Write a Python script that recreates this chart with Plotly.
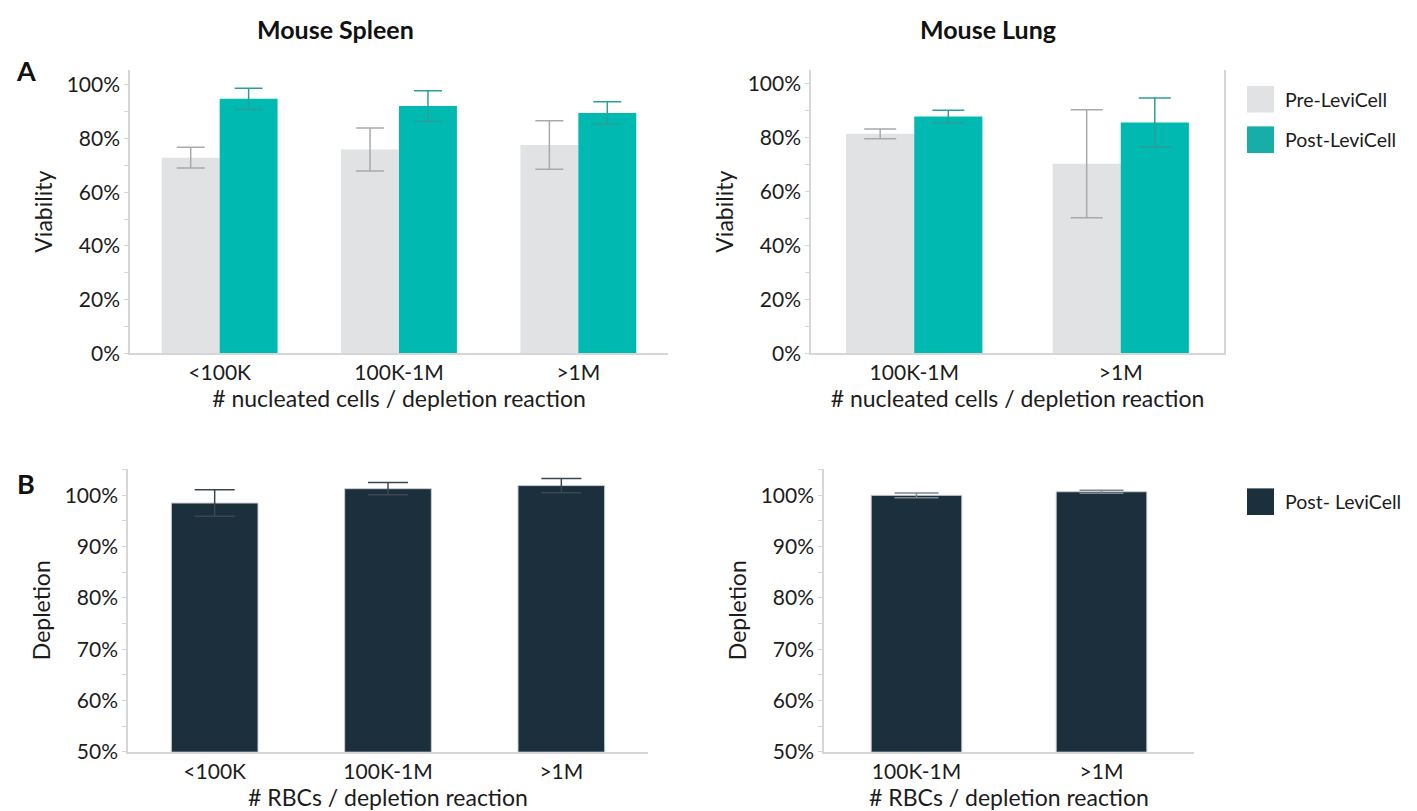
import plotly.graph_objects as go

W, H = 1417, 811

# ---------------- data ----------------
spleen_cats = ["<100K", "100K-1M", ">1M"]
lung_cats = ["100K-1M", ">1M"]

spleen_pre = [72.9, 75.9, 77.6]
spleen_pre_err = [3.9, 8.0, 9.0]
spleen_post = [94.8, 92.1, 89.5]
spleen_post_err = [4.0, 5.7, 4.2]

lung_pre = [81.4, 70.3]
lung_pre_err = [1.8, 20.0]
lung_post = [87.8, 85.6]
lung_post_err = [2.3, 9.1]

spleen_depl = [98.5, 101.3, 101.9]
spleen_depl_err = [2.6, 1.2, 1.4]
lung_depl = [100.0, 100.7]
lung_depl_err = [0.45, 0.3]

viab_ticks = [0, 20, 40, 60, 80, 100]
depl_ticks = [50, 60, 70, 80, 90, 100]

# ---------------- style ----------------
FONT = "Lato"
TXT = "#1c1c1c"
GRAY = "#e1e2e4"
TEAL = "#00b9b1"
TEAL_LEG = "#17aea7"
DARK = "#1b2f3c"
AXIS = "#d6d6d6"
TICK_SIZE = 21
TITLE_SIZE = 23


def px_x(p):
    return p / W


def px_y(p):
    return 1 - p / H


def esc(s):
    return s.replace("<", "&lt;").replace(">", "&gt;")


fig = go.Figure()

# ---- A left: Mouse Spleen viability ----
wA1 = 0.323
fig.add_trace(go.Bar(x=spleen_cats, y=spleen_pre, name="Pre-LeviCell",
                     marker=dict(color=GRAY, line=dict(width=0)),
                     width=wA1, offset=-wA1,
                     error_y=dict(type="data", array=spleen_pre_err, color="#a9a9a9",
                                  thickness=1.5, width=14),
                     xaxis="x", yaxis="y", showlegend=False))
fig.add_trace(go.Bar(x=spleen_cats, y=spleen_post, name="Post-LeviCell",
                     marker=dict(color=TEAL, line=dict(width=0)),
                     width=wA1, offset=0,
                     error_y=dict(type="data", array=spleen_post_err, color="#2a9f97",
                                  thickness=1.5, width=14),
                     xaxis="x", yaxis="y", showlegend=False))

# ---- A right: Mouse Lung viability ----
wA2 = 0.33
fig.add_trace(go.Bar(x=lung_cats, y=lung_pre, name="Pre-LeviCell",
                     marker=dict(color=GRAY, line=dict(width=0)),
                     width=wA2, offset=-wA2,
                     error_y=dict(type="data", array=lung_pre_err, color="#a9a9a9",
                                  thickness=1.5, width=16),
                     xaxis="x2", yaxis="y2", showlegend=False))
fig.add_trace(go.Bar(x=lung_cats, y=lung_post, name="Post-LeviCell",
                     marker=dict(color=TEAL, line=dict(width=0)),
                     width=wA2, offset=0,
                     error_y=dict(type="data", array=lung_post_err, color="#2a9f97",
                                  thickness=1.5, width=16),
                     xaxis="x2", yaxis="y2", showlegend=False))

# ---- B left: Mouse Spleen depletion ----
fig.add_trace(go.Bar(x=spleen_cats, y=spleen_depl, name="Post- LeviCell",
                     marker=dict(color=DARK, line=dict(color="#c9ced2", width=1)),
                     width=0.5,
                     error_y=dict(type="data", array=spleen_depl_err, color="#3a4750",
                                  thickness=1.5, width=20),
                     xaxis="x3", yaxis="y3", showlegend=False))

# ---- B right: Mouse Lung depletion ----
fig.add_trace(go.Bar(x=lung_cats, y=lung_depl, name="Post- LeviCell",
                     marker=dict(color=DARK, line=dict(color="#c9ced2", width=1)),
                     width=0.49,
                     error_y=dict(type="data", array=lung_depl_err, color="#7d878d",
                                  thickness=1.5, width=22),
                     xaxis="x4", yaxis="y4", showlegend=False))


def xax(domain, cats, title, anchor):
    return dict(domain=domain, anchor=anchor, type="category",
                categoryorder="array", categoryarray=cats,
                range=[-0.5, len(cats) - 0.5],
                tickmode="array", tickvals=cats, ticktext=[esc(c) for c in cats],
                showline=True, linecolor=AXIS, linewidth=1.5,
                showgrid=False, zeroline=False, ticks="",
                tickfont=dict(family=FONT, size=TICK_SIZE, color=TXT),
                title=dict(text=title, font=dict(family=FONT, size=TITLE_SIZE, color=TXT),
                           standoff=5))


def yax(domain, rng, ticks, minor_dtick, title, anchor, mirror=False):
    return dict(domain=domain, anchor=anchor, range=rng,
                tickmode="array", tickvals=ticks, ticktext=[f"{t}%" for t in ticks],
                showline=True, linecolor=AXIS, linewidth=1.5, mirror=mirror,
                showgrid=False, zeroline=False,
                ticks="outside", ticklen=4, tickcolor=AXIS, tickwidth=1,
                minor=dict(ticks="outside", ticklen=4, tickcolor=AXIS,
                           dtick=minor_dtick, tick0=0, showgrid=False),
                tickfont=dict(family=FONT, size=TICK_SIZE, color=TXT),
                title=dict(text=title, font=dict(family=FONT, size=TITLE_SIZE, color=TXT),
                           standoff=8))


yA = [px_y(350), px_y(63)]
yB = [px_y(754), px_y(467)]

fig.update_layout(
    width=W, height=H,
    margin=dict(l=0, r=0, t=0, b=0),
    paper_bgcolor="white", plot_bgcolor="white",
    barmode="overlay",
    showlegend=False,
    font=dict(family=FONT, color=TXT),
    xaxis=xax([px_x(122), px_x(660)], spleen_cats, "# nucleated cells / depletion reaction", "y"),
    yaxis=yax(yA, [0, 105.5], viab_ticks, 10, "Viability", "x"),
    xaxis2=xax([px_x(803), px_x(1216)], lung_cats, "# nucleated cells / depletion reaction", "y2"),
    yaxis2=yax(yA, [0, 105], viab_ticks, 10, "Viability", "x2", mirror=True),
    xaxis3=xax([px_x(120), px_x(640)], spleen_cats, "# RBCs / depletion reaction", "y3"),
    yaxis3=yax(yB, [50, 105.2], depl_ticks, 5, "Depletion", "x3"),
    xaxis4=xax([px_x(816), px_x(1186)], lung_cats, "# RBCs / depletion reaction", "y4"),
    yaxis4=yax(yB, [50, 105.2], depl_ticks, 5, "Depletion", "x4"),
)

# titles and panel letters
ann = [
    dict(text="<b>Mouse Spleen</b>", x=px_x(327), y=px_y(21), size=25),
    dict(text="<b>Mouse Lung</b>", x=px_x(980), y=px_y(21), size=25),
    dict(text="<b>A</b>", x=px_x(18), y=px_y(63), size=27),
    dict(text="<b>B</b>", x=px_x(18), y=px_y(482), size=27),
]
for a in ann:
    fig.add_annotation(text=a["text"], x=a["x"], y=a["y"], xref="paper", yref="paper",
                       showarrow=False, xanchor="center", yanchor="middle",
                       font=dict(family=FONT, size=a["size"], color="#111111"))

# legends drawn as swatches + labels
legend_items = [
    (GRAY, "Pre-LeviCell", 79, 106),
    (TEAL_LEG, "Post-LeviCell", 120, 147),
    (DARK, "Post- LeviCell", 487, 514),
]
for color, label, top, bot in legend_items:
    fig.add_shape(type="rect", xref="paper", yref="paper",
                  x0=px_x(1239), x1=px_x(1266), y0=px_y(bot), y1=px_y(top),
                  fillcolor=color, line=dict(width=0))
    fig.add_annotation(text=label, xref="paper", yref="paper",
                       x=px_x(1275), y=px_y((top + bot) / 2), showarrow=False,
                       xanchor="left", yanchor="middle",
                       font=dict(family=FONT, size=19.5, color=TXT))

fig.write_html("out.html")
